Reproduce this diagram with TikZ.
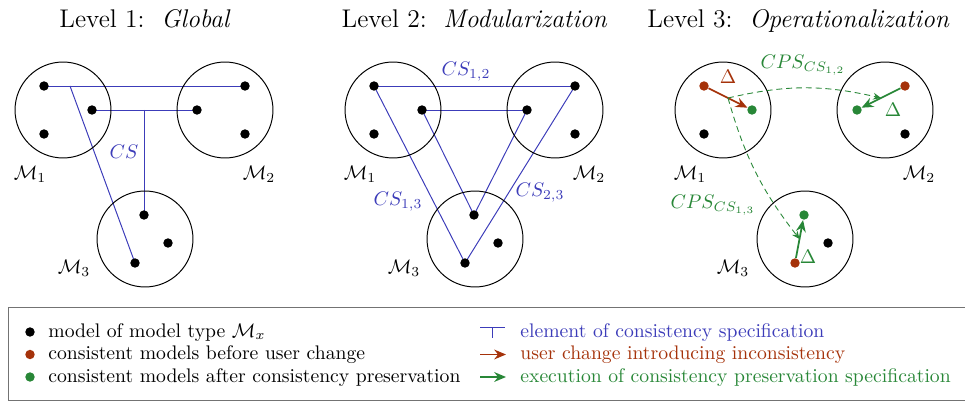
\documentclass[tikz,border=0pt]{standalone}
\usetikzlibrary{arrows.meta,backgrounds}
\definecolor{csblue}{RGB}{60,60,185}
\definecolor{chred}{RGB}{165,50,10}
\definecolor{cpgreen}{RGB}{40,135,55}
\begin{document}
\begin{tikzpicture}[x=0.5086pt,y=-0.5086pt]
\tikzset{
  mcircle/.style={circle,draw=black,line width=0.5pt,minimum size=48.8pt,inner sep=0pt},
  dot/.style={circle,fill=black,minimum size=4.8pt,inner sep=0pt},
  rdot/.style={dot,fill=chred},
  gdot/.style={dot,fill=cpgreen},
  csline/.style={draw=csblue,line width=0.5pt},
  change/.style={draw=chred,line width=0.9pt,-{Stealth[length=6pt,width=5pt]}},
  exec/.style={draw=cpgreen,line width=0.9pt,-{Stealth[length=6pt,width=5pt]}},
  cps/.style={draw=cpgreen,line width=0.45pt,dash pattern=on 3pt off 2pt,-{Stealth[length=4pt,width=3.5pt]}},
  title/.style={font=\fontsize{13}{16}\selectfont,anchor=base,inner sep=0pt},
  mlabel/.style={inner sep=0pt},
  bluelbl/.style={text=csblue,inner sep=0pt},
  greenlbl/.style={text=cpgreen,inner sep=0pt},
  legtext/.style={anchor=base west,inner sep=0pt}
}
\useasboundingbox (0,0) rectangle (965,403);

% titles
\node[title] (title1) at (145,28) {Level 1:\ \ \textit{Global}};
\node[title] (title2) at (474.5,28) {Level 2:\ \ \textit{Modularization}};
\node[title] (title3) at (798.5,28) {Level 3:\ \ \textit{Operationalization}};

% ---------------- Level 1 ----------------
\node[mcircle] (L1M1) at (63,110) {};
\node[mcircle] (L1M2) at (225,110) {};
\node[mcircle] (L1M3) at (145,239) {};
\node[dot] (a1) at (44,86) {};
\node[dot] (a2) at (92,110) {};
\node[dot] (a3) at (44,134) {};
\node[dot] (b1) at (245,86) {};
\node[dot] (b2) at (197,110) {};
\node[dot] (b3) at (245,134) {};
\node[dot] (c1) at (144,215) {};
\node[dot] (c2) at (168,243) {};
\node[dot] (c3) at (135,263) {};
\coordinate (j1) at (70,86);
\coordinate (j2) at (144,110);
\begin{scope}[on background layer]
\draw[csline] (a1.center) -- (b1.center);
\draw[csline] (a2.center) -- (b2.center);
\draw[csline] (j2) -- (c1.center);
\draw[csline] (j1) -- (c3.center);
\end{scope}
\node[bluelbl] (cs1) at (124,152) {$CS$};
\node[mlabel] (L1l1) at (30,174) {$\mathcal{M}_1$};
\node[mlabel] (L1l2) at (259,174) {$\mathcal{M}_2$};
\node[mlabel] (L1l3) at (74,268) {$\mathcal{M}_3$};

% ---------------- Level 2 ----------------
\node[mcircle] (L2M1) at (393,110) {};
\node[mcircle] (L2M2) at (555,110) {};
\node[mcircle] (L2M3) at (475,239) {};
\node[dot] (d1) at (374,86) {};
\node[dot] (d2) at (422,110) {};
\node[dot] (d3) at (374,134) {};
\node[dot] (e1) at (575,86) {};
\node[dot] (e2) at (527,110) {};
\node[dot] (e3) at (575,134) {};
\node[dot] (f1) at (474,215) {};
\node[dot] (f2) at (498,243) {};
\node[dot] (f3) at (465,263) {};
\begin{scope}[on background layer]
\draw[csline] (d1.center) -- (e1.center);
\draw[csline] (d2.center) -- (e2.center);
\draw[csline] (d1.center) -- (f3.center);
\draw[csline] (e1.center) -- (f3.center);
\draw[csline] (d2.center) -- (f1.center);
\draw[csline] (e2.center) -- (f1.center);
\end{scope}
\node[bluelbl] (cs12) at (466,72) {$CS_{1,2}$};
\node[bluelbl] (cs13) at (398,202) {$CS_{1,3}$};
\node[bluelbl] (cs23) at (540,193) {$CS_{2,3}$};
\node[mlabel] (L2l1) at (360,174) {$\mathcal{M}_1$};
\node[mlabel] (L2l2) at (589,174) {$\mathcal{M}_2$};
\node[mlabel] (L2l3) at (404,268) {$\mathcal{M}_3$};

% ---------------- Level 3 ----------------
\node[mcircle] (L3M1) at (723,110) {};
\node[mcircle] (L3M2) at (885,110) {};
\node[mcircle] (L3M3) at (805,239) {};
\node[rdot] (g1) at (704,86) {};
\node[gdot] (g2) at (752,110) {};
\node[dot]  (g3) at (704,134) {};
\node[rdot] (h1) at (905,86) {};
\node[gdot] (h2) at (857,110) {};
\node[dot]  (h3) at (905,134) {};
\node[gdot] (k1) at (804,215) {};
\node[dot]  (k2) at (828,243) {};
\node[rdot] (k3) at (795,263) {};
\draw[change] (g1) -- (g2) coordinate[midway] (mid1);
\draw[exec] (h1) -- (h2) coordinate[midway] (mid2);
\draw[exec] (k3) -- (k1) coordinate[midway] (mid3);
\draw[cps] (mid1) to[bend left=13] (mid2);
\draw[cps] (mid1) to[bend right=11] (mid3);
\node[text=chred,inner sep=0pt] (del1) at (728,77) {$\Delta$};
\node[greenlbl] (del2) at (893,110) {$\Delta$};
\node[greenlbl] (del3) at (808,257) {$\Delta$};
\node[greenlbl] (cps12) at (803,65) {$CPS_{CS_{1,2}}$};
\node[greenlbl] (cps13) at (713,205) {$CPS_{CS_{1,3}}$};
\node[mlabel] (L3l1) at (690,174) {$\mathcal{M}_1$};
\node[mlabel] (L3l2) at (919,174) {$\mathcal{M}_2$};
\node[mlabel] (L3l3) at (733,268) {$\mathcal{M}_3$};

% ---------------- Legend ----------------
\draw[black!55,line width=0.5pt] (8,307) rectangle (980,400.5);
\node[dot] (ld1) at (30,332) {};
\node[rdot] (ld2) at (30,354.5) {};
\node[gdot] (ld3) at (30,377) {};
\node[legtext] (lt1) at (48,337) {model of model type $\mathcal{M}_x$};
\node[legtext] (lt2) at (48,359) {consistent models before user change};
\node[legtext] (lt3) at (48,382) {consistent models after consistency preservation};
\coordinate (ls1) at (480,327);
\coordinate (ls2) at (505,327);
\coordinate (ls3) at (492.5,327);
\coordinate (ls4) at (492.5,338);
\draw[csline] (ls1) -- (ls2);
\draw[csline] (ls3) -- (ls4);
\coordinate (la1) at (480,354.5);
\coordinate (la2) at (506,354.5);
\coordinate (la3) at (480,377);
\coordinate (la4) at (506,377);
\draw[change] (la1) -- (la2);
\draw[exec] (la3) -- (la4);
\node[legtext,text=csblue] (rt1) at (520,337) {element of consistency specification};
\node[legtext,text=chred] (rt2) at (520,359) {user change introducing inconsistency};
\node[legtext,text=cpgreen] (rt3) at (520,382) {execution of consistency preservation specification};
\end{tikzpicture}
\end{document}
